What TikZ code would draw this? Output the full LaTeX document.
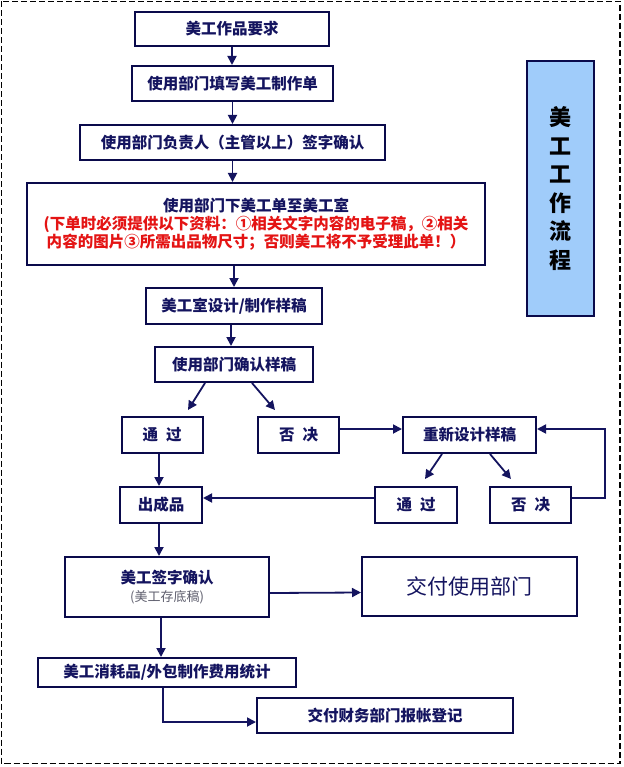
\documentclass[tikz,border=0pt]{standalone}
\usepackage{fontspec}
\setmainfont{Noto Sans CJK SC}
\usetikzlibrary{arrows.meta}
\definecolor{navy}{RGB}{20,20,95}
\definecolor{boxline}{RGB}{10,10,75}
\definecolor{redtxt}{RGB}{228,20,20}
\definecolor{lightblue}{RGB}{160,204,250}
\definecolor{graytxt}{RGB}{95,95,110}
\tikzset{
  box/.style={draw=boxline, line width=2pt, fill=white, inner sep=0pt, align=center,
    text=navy, font=\fontsize{15.5}{18}\selectfont\bfseries},
  arr/.style={draw=navy, line width=1.8pt, -{Triangle[length=9pt,width=9pt]}},
}
\begin{document}
\begin{tikzpicture}[x=1pt, y=-1pt]
\useasboundingbox (0,0) rectangle (623,767);
\draw[line width=1.7pt, dash pattern=on 6pt off 3pt] (1.5,1.5) rectangle (620,763.5);

% main chain
\node[box, minimum width=194, minimum height=34] (b1) at (232,29) {美工作品要求};
\node[box, minimum width=201, minimum height=35] (b2) at (232.5,83.5) {使用部门填写美工制作单};
\node[box, minimum width=305, minimum height=35] (b3) at (232.5,142.5) {使用部门负责人（主管以上）签字确认};
\node[box, minimum width=458, minimum height=82] (b4) at (256,224)
  {\fontsize{15.5}{26}\selectfont 使用部门下美工单至美工室\\
   \textcolor{redtxt}{(下单时必须提供以下资料：①相关文字内容的电子稿，②相关}\\
   \textcolor{redtxt}{内容的图片③所需出品物尺寸；否则美工将不予受理此单！）}};
\node[box, minimum width=176, minimum height=36] (b5) at (234,306) {美工室设计/制作样稿};
\node[box, minimum width=158, minimum height=35] (b6) at (234,364.5) {使用部门确认样稿};

% decision row
\node[box, minimum width=81, minimum height=36] (p1) at (162,435) {通\hspace{8pt}过};
\node[box, minimum width=81, minimum height=36] (n1) at (298.5,435) {否\hspace{8pt}决};
\node[box, minimum width=133, minimum height=36] (redo) at (469.5,435) {重新设计样稿};
\node[box, minimum width=82, minimum height=36] (out) at (161,505) {出成品};
\node[box, minimum width=82, minimum height=36] (p2) at (416,505) {通\hspace{8pt}过};
\node[box, minimum width=81, minimum height=36] (n2) at (530.5,505) {否\hspace{8pt}决};

% bottom
\node[box, minimum width=204, minimum height=60] (sign) at (167,587)
  {\fontsize{15.5}{25}\selectfont 美工签字确认\\
   \textcolor{graytxt}{\fontsize{13}{14}\selectfont\mdseries (美工存底稿)}};
\node[box, minimum width=215, minimum height=59, font=\fontsize{21}{24}\selectfont] (deliver) at (469.5,586.5) {交付使用部门};
\node[box, minimum width=258, minimum height=29] (cost) at (167,672.5) {美工消耗品/外包制作费用统计};
\node[box, minimum width=256, minimum height=35] (fin) at (385,715.5) {交付财务部门报帐登记};

% side title
\node[draw=boxline, line width=1.7pt, fill=lightblue, minimum width=67, minimum height=255,
  inner sep=0pt, align=center, font=\fontsize{22}{28.5}\selectfont\bfseries] (title) at (560.5,188.5)
  {美\\工\\工\\作\\流\\程};

% arrow end points
\coordinate (e1) at (188,410);
\coordinate (e2) at (275,410);
\coordinate (e3) at (425,479);
\coordinate (e4) at (511,479);

% connectors
\draw[arr] (b1.south) -- (b1.south |- b2.north);
\draw[arr] (b2.south) -- (b2.south |- b3.north);
\draw[arr] (b3.south) -- (b3.south |- b4.north);
\draw[arr] (b4.south -| b5.north) -- (b5.north);
\draw[arr] ([xshift=-3pt]b5.south) -- ([xshift=-3pt]b5.south |- b6.north);
\draw[arr] ([xshift=-29pt]b6.south) -- (e1);
\draw[arr] ([xshift=18pt]b6.south) -- (e2);
\draw[arr] ([yshift=6pt]n1.east) -- ([yshift=6pt]redo.west);
\draw[arr] ([xshift=-27.5pt]redo.south) -- (e3);
\draw[arr] ([xshift=20.5pt]redo.south) -- (e4);
\draw[arr] ([yshift=7pt]n2.east) -- ++(33,0) |- ([yshift=6pt]redo.east);
\draw[arr] ([xshift=-3pt]p1.south) -- ([xshift=-3pt]p1.south |- out.north);
\draw[arr] ([yshift=7pt]p2.west) -- ([yshift=7pt]out.east);
\draw[arr] ([xshift=-2pt]out.south) -- ([xshift=-2pt]out.south |- sign.north);
\draw[arr] ([yshift=-6pt]sign.east) -- ([yshift=-6pt]deliver.west);
\draw[arr] ([xshift=-6pt]sign.south) -- ([xshift=-6pt]sign.south |- cost.north);
\draw[arr] ([xshift=-4pt]cost.south) |- ([yshift=-6.5pt]fin.west);
\end{tikzpicture}
\end{document}
